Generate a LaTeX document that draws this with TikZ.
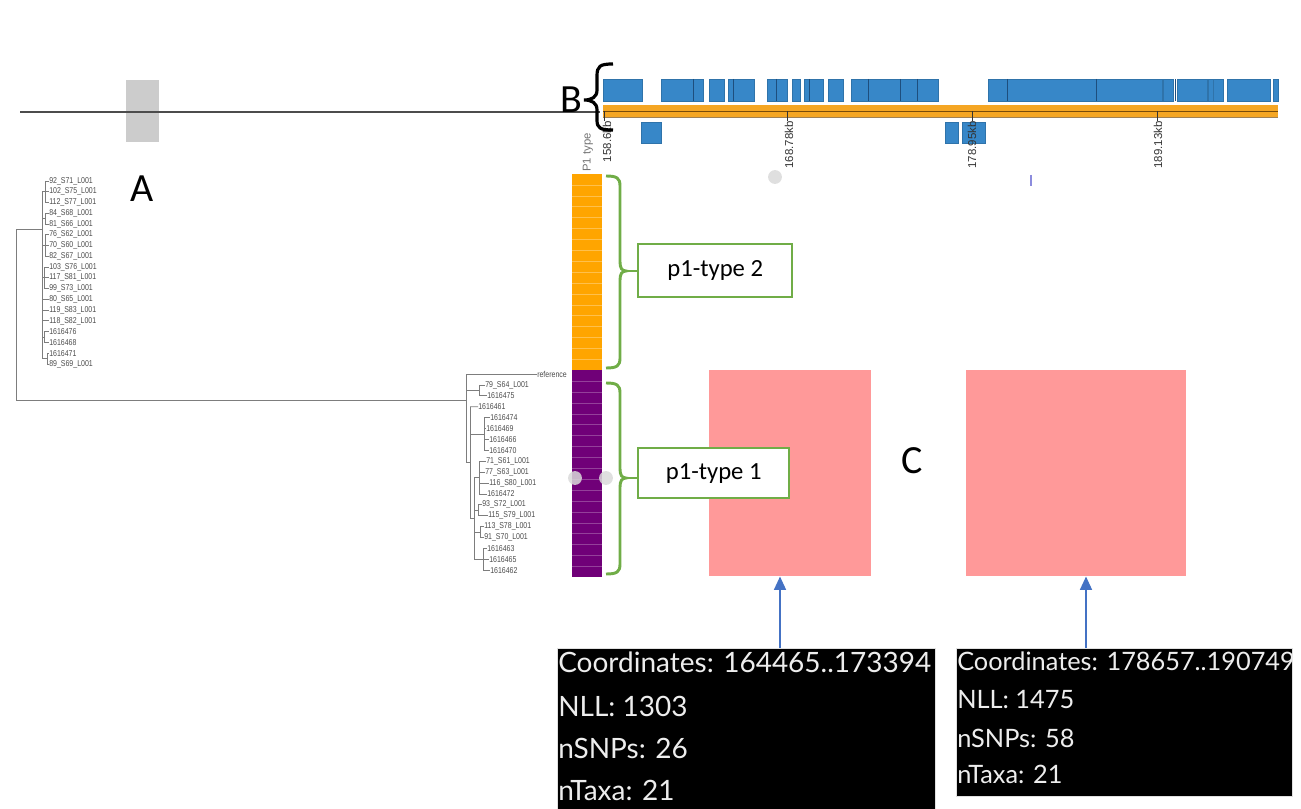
\documentclass[tikz,border=0pt]{standalone}
\usepackage{fontspec}
\setmainfont{Liberation Sans}
\newfontfamily\carlito{Carlito}
\newfontfamily\lato{Lato}
\newfontfamily\narrowsans[FakeStretch=0.82]{Liberation Sans}
\usetikzlibrary{arrows.meta}

\definecolor{blueTrack}{RGB}{55,135,200}
\definecolor{blueSep}{RGB}{30,78,125}
\definecolor{orangeTrack}{RGB}{245,166,35}
\definecolor{trackLine}{RGB}{120,75,10}
\definecolor{barOrange}{RGB}{255,165,0}
\definecolor{barPurple}{RGB}{112,0,120}
\definecolor{gGreen}{RGB}{112,173,71}
\definecolor{pinkC}{RGB}{255,153,153}
\definecolor{arrowBlue}{RGB}{68,114,196}
\definecolor{treeGray}{RGB}{125,125,125}

\begin{document}
\begin{tikzpicture}[x=0.75pt,y=-0.75pt,
  leaf/.style={font=\narrowsans\fontsize{6.4}{7}\selectfont, text=black!70, inner sep=0pt, anchor=west},
  tl/.style={draw=treeGray, line width=0.6pt},
  bigletter/.style={font=\carlito\fontsize{30}{36}\selectfont, inner sep=0pt},
  kblabel/.style={font=\fontsize{8.6}{10}\selectfont, text=black!80, rotate=90, anchor=east, inner sep=0pt},
  trackbox/.style={fill=blueTrack, draw=blueTrack!85!black, line width=0.3pt},
  sep/.style={draw=blueSep, line width=0.6pt},
  gbrace/.style={draw=gGreen, line width=2.2pt},
  typebox/.style={draw=gGreen, line width=1.8pt, fill=white, font=\carlito\fontsize{18.5}{22}\selectfont, inner sep=0pt, anchor=north west},
  pinkbox/.style={fill=pinkC, inner sep=0pt, anchor=north west},
  infobox/.style={fill=black, draw=black!12, line width=0.5pt, inner sep=0pt, anchor=north west},
  infotext/.style={text=white!93!black, inner sep=0pt, anchor=base west},
  pointer/.style={draw=arrowBlue, line width=1.1pt, -{Triangle[width=9pt,length=10pt]}},
  faint/.style={fill=black!15, opacity=0.85}
]
\useasboundingbox (0,0) rectangle (1301,809);

% ---------- overview line and window ----------
\fill[black!20] (126,80) rectangle (159,142);
\draw[black!70, line width=0.9pt] (20,112) -- (600,112);
\node[bigletter] (labA) at (142,189) {A};

% ---------- genome track ----------
\fill[orangeTrack] (603,105) rectangle (1278,118);
\draw[trackLine, line width=0.6pt] (603,111) -- (1278,111);
\draw[trackLine!70, line width=0.5pt] (603,117) -- (1278,117);

% upper row of features
\foreach \a/\b in {603/642, 661/703, 709/724, 728/754, 767/787, 792/800, 804/823, 828/843,
                   851/938, 988/1162, 1163/1173, 1177/1207, 1208/1213, 1213/1223, 1227/1270, 1273/1278}
  \draw[trackbox] (\a,79) rectangle (\b,101);
\foreach \s in {693, 733, 776, 809, 868, 900, 917, 1007, 1096, 1175}
  \draw[sep] (\s,79) -- (\s,101);
% lower row of features
\foreach \a/\b in {641/661, 945/958, 962/985}
  \draw[trackbox] (\a,122) rectangle (\b,143);

% scale ticks and labels
\foreach \t in {604, 787, 972, 1157}
  \draw[black!80, line width=0.6pt] (\t,111) -- (\t,121);
\node[kblabel] (kb1) at (607,121) {158.6kb};
\node[kblabel] (kb2) at (789,121) {168.78kb};
\node[kblabel] (kb3) at (972,121) {178.95kb};
\node[kblabel] (kb4) at (1158,121) {189.13kb};

\fill[faint] (775,177) circle[radius=5.2pt];
\draw[black!30!blue!45, line width=0.8pt] (1031,175) -- (1031,186);

% brace and label B
\node[bigletter] (labB) at (571,100) {B};
\draw[black, line width=2.4pt]
  (613,64) .. controls (600,64) and (597,66) .. (597,76) -- (597,90)
  .. controls (597,97) and (592,100) .. (584,100)
  .. controls (592,100) and (597,103) .. (597,110) -- (597,120)
  .. controls (597,128) and (600,130) .. (613,130);

% ---------- P1 type column ----------
\node[font=\fontsize{8.5}{10}\selectfont, text=black!55, rotate=90, anchor=west, inner sep=0pt] (ptype) at (588,172) {P1 type};
\fill[barOrange] (572,174) rectangle (602,370.2);
\fill[barPurple] (572,370.2) rectangle (602,577.3);
\foreach \k in {1,...,17}
  \draw[barOrange!70!white, line width=0.4pt] (572,{174+10.9*\k}) -- (602,{174+10.9*\k});
\foreach \k in {19,...,36}
  \draw[barPurple!75!white, line width=0.4pt] (572,{174+10.9*\k}) -- (602,{174+10.9*\k});
\fill[faint] (575,478) circle[radius=5.2pt];
\fill[faint] (606,478) circle[radius=5.2pt];

% ---------- windows C ----------
\node[pinkbox, minimum width=121.5pt, minimum height=154.5pt] (c1) at (709,370) {};
\node[pinkbox, minimum width=165pt, minimum height=154.5pt] (c2) at (966,370) {};
\node[bigletter] (labC) at (912,461) {C};

% ---------- green braces and type boxes ----------
\node[typebox, minimum width=115.5pt, minimum height=39.75pt] (t2) at (637,243) {p1-type 2};
\node[typebox, minimum width=113.25pt, minimum height=37.5pt] (t1) at (637,447) {p1-type 1};

\coordinate (tip2) at (626,271);
\draw[gbrace]
  (606,176) .. controls (617,176) and (620,178) .. (620,186) -- (620,262)
  .. controls (620,268) and (622,271) .. (tip2)
  .. controls (622,271) and (620,274) .. (620,280) -- (620,358)
  .. controls (620,366) and (617,368) .. (606,368);
\draw[gbrace] (tip2) -- (tip2 -| t2.west);

\coordinate (tip1) at (626,478);
\draw[gbrace]
  (606,383) .. controls (617,383) and (620,385) .. (620,393) -- (620,469)
  .. controls (620,475) and (622,478) .. (tip1)
  .. controls (622,478) and (620,481) .. (620,487) -- (620,564)
  .. controls (620,572) and (617,574) .. (606,574);
\draw[gbrace] (tip1) -- (tip1 -| t1.west);

% ---------- info boxes ----------
\node[infobox, minimum width=283.5pt, minimum height=120.75pt] (i1) at (557,648) {};
\node[infobox, minimum width=252pt, minimum height=111pt] (i2) at (956,648) {};

\begin{scope}[every node/.style={infotext, font=\lato\fontsize{21}{25}\selectfont}]
  \node (i1a) at (558,672) {Coordinates: 164465..173394};
  \node (i1b) at (558,716) {NLL: 1303};
  \node (i1c) at (558,758) {nSNPs: 26};
  \node (i1d) at (558,800) {nTaxa: 21};
\end{scope}
\begin{scope}[every node/.style={infotext, font=\lato\fontsize{19}{23}\selectfont}]
  \node (i2a) at (957,670) {Coordinates: 178657..190749};
  \node (i2b) at (957,708) {NLL: 1475};
  \node (i2c) at (957,747) {nSNPs: 58};
  \node (i2d) at (957,783) {nTaxa: 21};
\end{scope}

\coordinate (a1) at (780,648);
\coordinate (a2) at (1086,648);
\draw[pointer] (a1) -- (a1 |- c1.south);
\draw[pointer] (a2) -- (a2 |- c2.south);

% ---------- tree: upper clade ----------
\foreach \t [count=\i from 0] in {92\_S71\_L001, 102\_S75\_L001, 112\_S77\_L001, 84\_S68\_L001,
    81\_S66\_L001, 76\_S62\_L001, 70\_S60\_L001, 82\_S67\_L001, 103\_S76\_L001, 117\_S81\_L001,
    99\_S73\_L001, 80\_S65\_L001, 119\_S83\_L001, 118\_S82\_L001, 1616476, 1616468, 1616471, 89\_S69\_L001}
  \node[leaf] (u\i) at (49,{181+10.76*\i}) {\t};

\draw[tl] (16,229) -- (16,400);
\draw[tl] (16,229) -- (42,229);
\draw[tl] (42,191.76) -- (42,358.54);
\foreach \a/\b/\g in {0/2/45, 3/4/45, 5/7/45, 8/10/44, 11/11/42, 12/12/42, 13/13/42, 14/15/44, 16/17/47} {
  \draw[tl] (\g,{181+10.76*\a}) -- (\g,{181+10.76*\b});
  \draw[tl] (42,{181+10.76*(\a+\b)/2}) -- (\g,{181+10.76*(\a+\b)/2});
  \foreach \i in {\a,...,\b}
    \draw[tl] (\g,{181+10.76*\i}) -- (u\i.west);
}

% ---------- tree: lower clade ----------
\node[leaf] (w0) at (537,374) {reference};
\foreach \t/\lx [count=\i from 1] in {79\_S64\_L001/485, 1616475/487, 1616461/478, 1616474/490,
    1616469/486, 1616466/489, 1616470/489, 71\_S61\_L001/486, 77\_S63\_L001/485, 116\_S80\_L001/489,
    1616472/487, 93\_S72\_L001/482, 115\_S79\_L001/488, 113\_S78\_L001/484, 91\_S70\_L001/484,
    1616463/487, 1616465/489, 1616462/490}
  \node[leaf] (w\i) at (\lx,{374+10.9*\i}) {\t};

\draw[tl] (16,400) -- (466,400);
\draw[tl] (466,374) -- (466,462.5);
\draw[tl] (466,374) -- (w0.west);
\draw[tl] (466,390.35) -- (479,390.35);
\draw[tl] (466,462.5) -- (470,462.5);
\draw[tl] (470,406.7) -- (470,518.4);
\draw[tl] (470,406.7) -- (w3.west);
\draw[tl] (470,434) -- (484,434);
\draw[tl] (470,518.4) -- (474,518.4);
\draw[tl] (474,477.5) -- (474,559.3);
\foreach \a/\b/\g/\p in {1/2/479/466, 4/7/484/470, 8/11/479/474, 12/13/478/474, 14/15/480/474, 16/18/483/474} {
  \draw[tl] (\g,{374+10.9*\a}) -- (\g,{374+10.9*\b});
  \draw[tl] (\p,{374+10.9*(\a+\b)/2}) -- (\g,{374+10.9*(\a+\b)/2});
  \foreach \i in {\a,...,\b}
    \draw[tl] (\g,{374+10.9*\i}) -- (w\i.west);
}
\end{tikzpicture}
\end{document}
